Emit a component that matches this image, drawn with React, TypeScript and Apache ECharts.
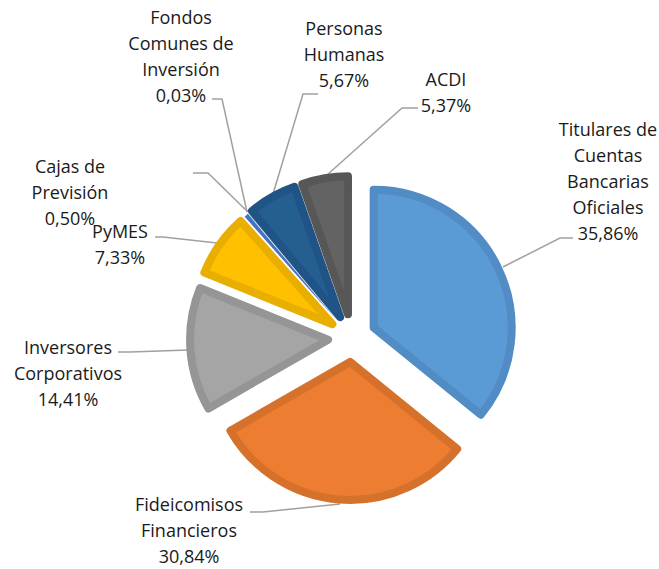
import React, { useEffect, useRef } from "react";
import * as echarts from "echarts";

const categories = [
  "Titulares de\nCuentas\nBancarias\nOficiales",
  "Fideicomisos\nFinancieros",
  "Inversores\nCorporativos",
  "PyMES",
  "Cajas de\nPrevisión",
  "Fondos\nComunes de\nInversión",
  "Personas\nHumanas",
  "ACDI",
];
const shares = [35.86, 30.84, 14.41, 7.33, 0.5, 0.03, 5.67, 5.37];

const fillColors = ["#5B9BD5", "#ED7D31", "#A5A5A5", "#FFC000", "#4472C4", "#70AD47", "#255E91", "#636363"];
const edgeColors = ["#518CC4", "#D6712C", "#959595", "#E8AE00", "#4472C4", "#70AD47", "#205386", "#575757"];
const edgeWidths = [8, 8, 8, 8, 0, 0, 8, 8];

// label block centres and leader lines (layout only)
const labelCenters = [
  [608, 181], [189, 530], [68, 373], [120, 244], [70, 192], [181, 56], [344, 54], [446, 92],
];
const leaderLines = [
  [[573, 238], [560, 238], [503, 267]],
  [[250, 512], [263, 512], [340, 504]],
  [[118, 352], [130, 352], [188, 350]],
  [[155, 237], [163, 237], [217, 243]],
  [[193, 173], [208, 173], [248, 212]],
  [[212, 99], [222, 99], [247, 212]],
  [[318, 94], [303, 94], [273, 194]],
  [[418, 108], [402, 108], [327, 175]],
];

const fmt = (v: number) => `${v.toFixed(2).replace(".", ",")}%`;

export default function App() {
  const ref = useRef<HTMLDivElement>(null);
  useEffect(() => {
    if (!ref.current) return;
    const chart = echarts.init(ref.current, null, { renderer: "svg" });
    const data = shares.map((v, i) => {
      const style = {
        color: fillColors[i],
        borderColor: edgeColors[i],
        borderWidth: edgeWidths[i],
        borderJoin: "round",
      };
      return {
        name: categories[i],
        value: v,
        selected: true,
        itemStyle: style,
        select: { itemStyle: style },
      };
    });
    const lines = leaderLines.map((pts) => ({
      type: "polyline",
      silent: true,
      z: 1,
      shape: { points: pts },
      style: { stroke: "#A0A0A0", lineWidth: 1.5, fill: null },
    }));
    const texts = categories.map((name, i) => ({
      type: "text",
      silent: true,
      z: 10,
      x: labelCenters[i][0],
      y: labelCenters[i][1],
      style: {
        text: `${name}\n${fmt(shares[i])}`,
        fill: "#1a1a1a",
        font: "18px 'Open Sans'",
        lineHeight: 26,
        align: "center",
        verticalAlign: "middle",
        textAlign: "center",
        textVerticalAlign: "middle",
      },
    }));
    chart.setOption({
      animation: false,
      backgroundColor: "#ffffff",
      graphic: { elements: [...lines, ...texts] },
      series: [
        {
          type: "pie",
          center: [352, 338],
          radius: [0, 138],
          startAngle: 90,
          clockwise: true,
          selectedMode: "multiple",
          selectedOffset: 24,
          silent: true,
          z: 5,
          emphasis: { disabled: true },
          data,
          label: { show: false },
          labelLine: { show: false },
        },
      ],
    });
    return () => chart.dispose();
  }, []);
  return (
    <div
      ref={ref}
      style={{ position: "absolute", left: 0, top: 0, width: 659, height: 569 }}
    />
  );
}
